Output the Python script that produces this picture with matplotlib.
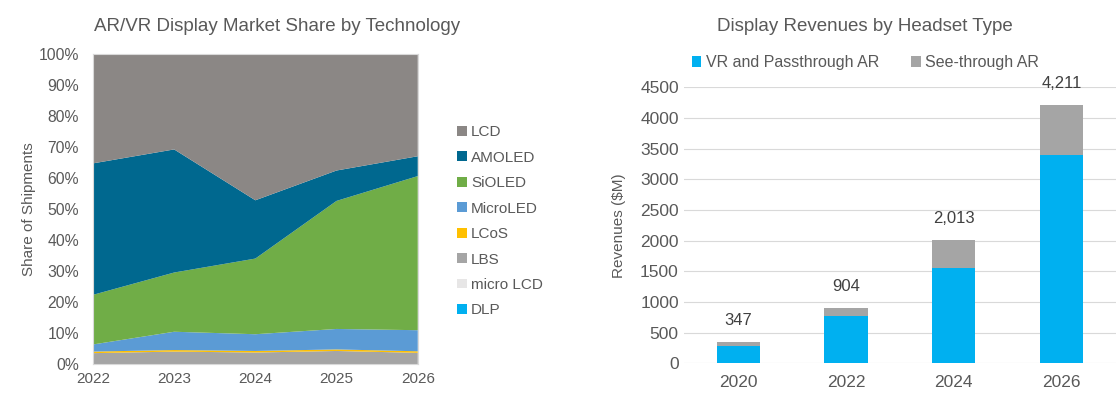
import matplotlib.pyplot as plt
from matplotlib.patches import Patch

plt.rcParams['font.family'] = ['Liberation Sans', 'DejaVu Sans']
TXT = '#595959'

# left chart: market share by technology (%)
years = [2022, 2023, 2024, 2025, 2026]
techs = ['DLP', 'micro LCD', 'LBS', 'LCoS', 'MicroLED', 'SiOLED', 'AMOLED', 'LCD']
dlp = [0, 0, 0, 0, 0]
micro_lcd = [0, 0, 0, 0, 0]
lbs = [3.5, 4.0, 3.7, 4.2, 3.6]
lcos = [0.5, 0.5, 0.5, 0.5, 0.5]
microled = [2.3, 5.9, 5.4, 6.6, 6.8]
sioled = [16.0, 19.1, 24.4, 41.3, 49.7]
amoled = [42.4, 39.7, 18.8, 9.8, 6.4]
lcd = [35.3, 30.8, 47.2, 37.6, 33.0]
tech_colors = ['#00B0F0', '#E7E6E6', '#A5A5A5', '#FFC000', '#5B9BD5',
               '#70AD47', '#00688F', '#8B8785']

# right chart: display revenues ($M)
rev_years = ['2020', '2022', '2024', '2026']
vr_pass = [290, 770, 1560, 3400]
totals = [347, 904, 2013, 4211]
see_through = [t - v for t, v in zip(totals, vr_pass)]

fig = plt.figure(figsize=(11.2, 3.95), dpi=100)

# ---- left: stacked area
ax1 = fig.add_axes([0.083, 0.0785, 0.29, 0.785])
ax1.stackplot(years, dlp, micro_lcd, lbs, lcos, microled, sioled, amoled, lcd,
              colors=tech_colors, linewidth=0)
ax1.set_xlim(2022, 2026)
ax1.set_ylim(0, 100)
ax1.set_xticks(years)
ax1.set_yticks(range(0, 101, 10))
ax1.set_yticklabels([f'{v}%' for v in range(0, 101, 10)])
ax1.tick_params(length=0, labelsize=11, colors=TXT, pad=6)
ax1.tick_params(axis='y', pad=10, labelsize=11.3)
for s in ax1.spines.values():
    s.set_color('#D9D9D9')
    s.set_linewidth(0.8)
ax1.set_ylabel('Share of Shipments', fontsize=11, color=TXT, labelpad=2)
fig.text(0.2475, 0.932, 'AR/VR Display Market Share by Technology', ha='center',
         va='center', fontsize=13.5, color=TXT)
handles = [Patch(facecolor=c, label=t) for t, c in zip(techs, tech_colors)][::-1]
ax1.legend(handles=handles, loc='center left', bbox_to_anchor=(1.08, 0.46),
           frameon=False, fontsize=11, labelcolor=TXT, handlelength=0.6,
           handleheight=0.6, handletextpad=0.3, labelspacing=0.75)

# ---- right: stacked bars
ax2 = fig.add_axes([0.611, 0.080, 0.385, 0.699])
x = range(len(rev_years))
ax2.bar(x, vr_pass, width=0.4, color='#00B0F0', label='VR and Passthrough AR',
        zorder=3)
ax2.bar(x, see_through, width=0.4, bottom=vr_pass, color='#A5A5A5',
        label='See-through AR', zorder=3)
for i, t in enumerate(totals):
    ax2.annotate(f'{t:,}', (i, t), xytext=(0, 10), textcoords='offset points',
                 ha='center', va='bottom', fontsize=12, color='#404040')
ax2.set_xlim(-0.5, 3.5)
ax2.set_ylim(0, 4500)
ax2.set_xticks(list(x))
ax2.set_xticklabels(rev_years)
ax2.set_yticks(range(0, 4501, 500))
ax2.grid(axis='y', color='#D9D9D9', linewidth=0.8, zorder=0)
ax2.tick_params(length=0, labelsize=12.5, colors=TXT, pad=8)
ax2.tick_params(axis='y', pad=4)
for s in ax2.spines.values():
    s.set_visible(False)
ax2.set_ylabel('Revenues ($M)', fontsize=11, color=TXT, labelpad=10)
ax2.legend(loc='lower center', bbox_to_anchor=(0.42, 1.01), ncol=2,
           frameon=False, fontsize=11.5, labelcolor=TXT, handlelength=0.6,
           handleheight=0.6, handletextpad=0.3, columnspacing=2.0)
fig.text(0.772, 0.932, 'Display Revenues by Headset Type', ha='center',
         va='center', fontsize=13.5, color=TXT)

fig.savefig('out.png', dpi=100)
